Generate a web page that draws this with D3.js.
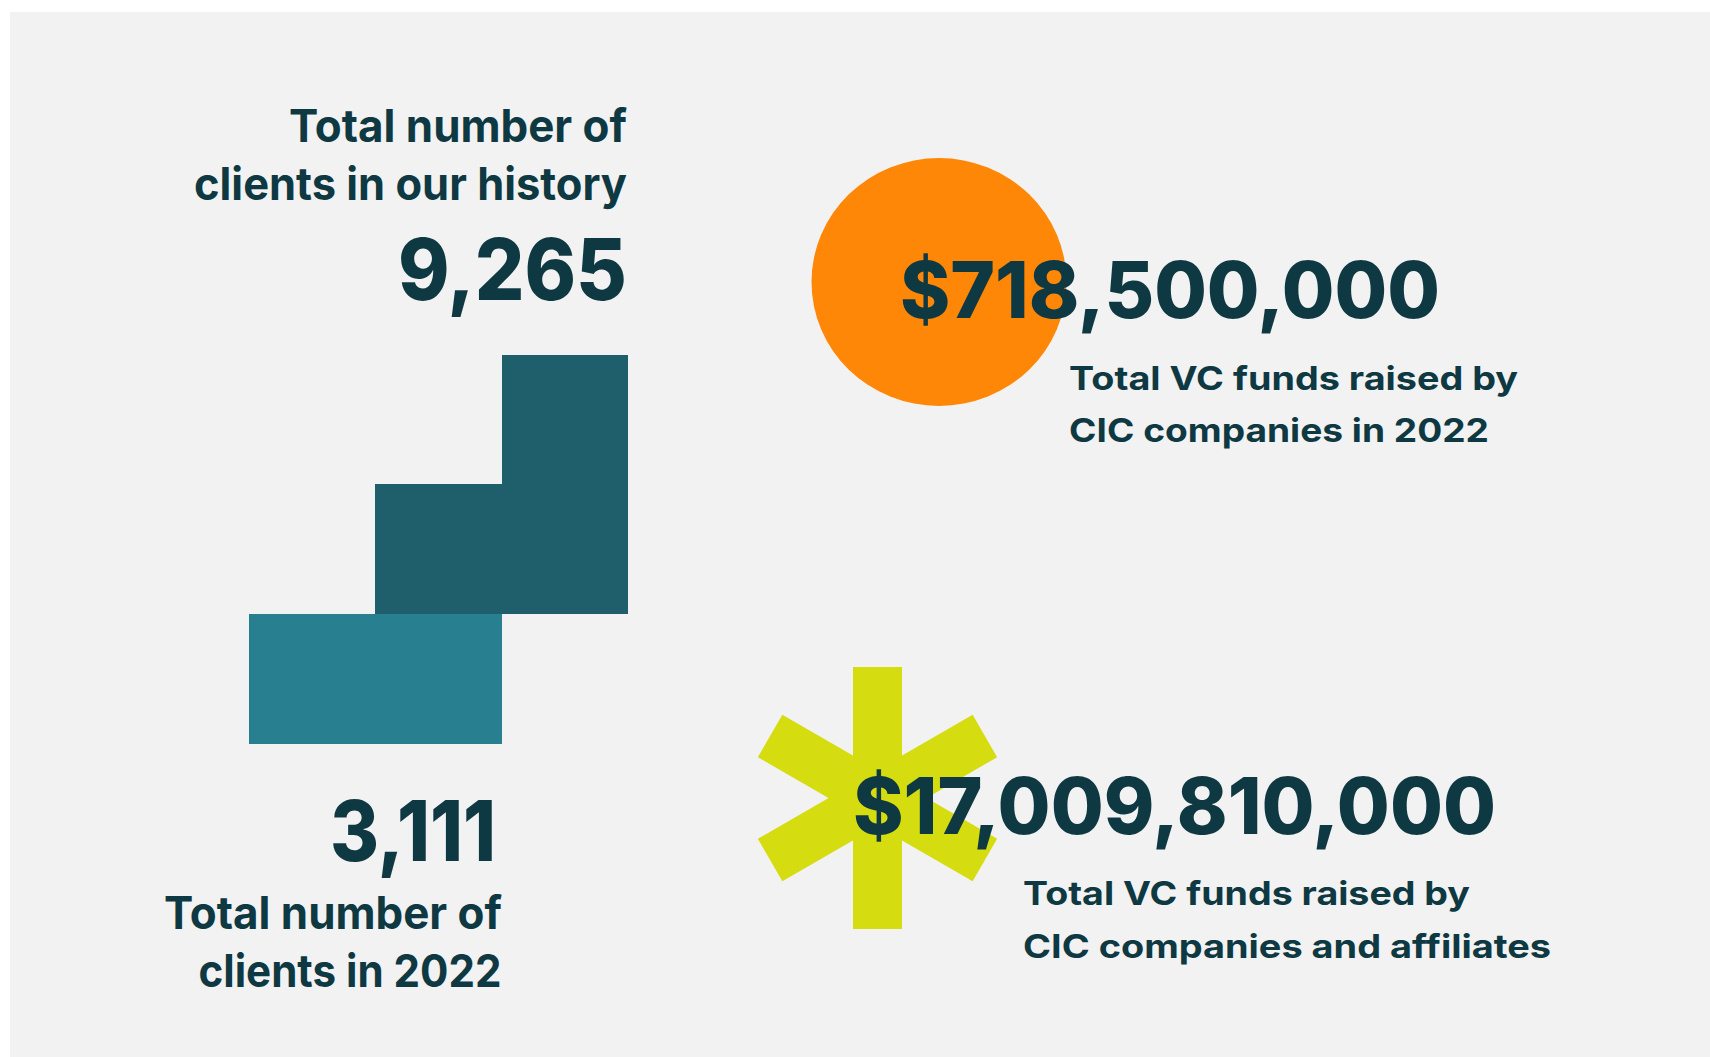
<!DOCTYPE html>
<html>
<head>
<meta charset="utf-8">
<script src="https://cdn.jsdelivr.net/npm/d3@7"></script>
<style>
  html, body { margin: 0; padding: 0; background: #ffffff; }
  svg { display: block; }
  text { font-family: Inter, "Open Sans", sans-serif; fill: #0f3942; }
</style>
</head>
<body>
<div id="chart"></div>
<script>
// step blocks (clients): one entry per block
var stepCols  = ["c0", "c1", "c1", "c2"];
var stepLow   = [0, 0, 1, 1];
var stepHigh  = [1, 1, 2, 3];
var stepTone  = ["light", "light", "dark", "dark"];

// headline figures and their captions
var statValues = ["9,265", "3,111", "$718,500,000", "$17,009,810,000"];
var statLine1  = ["Total number of", "Total number of", "Total VC funds raised by", "Total VC funds raised by"];
var statLine2  = ["clients in our history", "clients in 2022", "CIC companies in 2022", "CIC companies and affiliates"];

var W = 1710, H = 1057;

var svg = d3.select("#chart").append("svg")
    .attr("width", W)
    .attr("height", H);

// page background
svg.append("rect")
    .attr("x", 10).attr("y", 12)
    .attr("width", W - 10).attr("height", H - 12)
    .attr("fill", "#f2f2f2");

// Step blocks
var x = d3.scaleBand()
    .domain(["c0", "c1", "c2"])
    .range([248.7, 628.2])
    .padding(0);
var y = d3.scaleLinear()
    .domain([0, 3])
    .range([744, 354.5]);
var tone = d3.scaleOrdinal()
    .domain(["light", "dark"])
    .range(["#277f8f", "#1f5f6b"]);

var blocks = stepCols.map(function(c, i) {
    return { col: c, low: stepLow[i], high: stepHigh[i], tone: stepTone[i] };
});

svg.append("g").selectAll("rect")
    .data(blocks)
    .enter().append("rect")
    .attr("x", function(d) { return x(d.col); })
    .attr("y", function(d) { return y(d.high); })
    .attr("width", x.bandwidth())
    .attr("height", function(d) { return y(d.low) - y(d.high); })
    .attr("fill", function(d) { return tone(d.tone); })
    .attr("shape-rendering", "crispEdges");

// Orange disc behind the 2022 figure
svg.append("ellipse")
    .attr("cx", 939).attr("cy", 282)
    .attr("rx", 127.5).attr("ry", 124)
    .attr("fill", "#ff8708");

// Asterisk behind the affiliates figure (vertical arm longer than diagonals)
var star = svg.append("g")
    .attr("transform", "translate(877.5,798)");
star.selectAll("rect")
    .data([{ a: 0, h: 131 }, { a: 60, h: 124 }, { a: -60, h: 124 }])
    .enter().append("rect")
    .attr("x", -24.5)
    .attr("y", function(d) { return -d.h; })
    .attr("width", 49)
    .attr("height", function(d) { return 2 * d.h; })
    .attr("transform", function(d) { return "rotate(" + d.a + ")"; })
    .attr("fill", "#d5dc10");

// text layout: [left, baseline, width, size, weight]
var valueLayout = [
    [398, 300, 229, 85, 800],
    [330, 861, 166, 84, 800],
    [900, 318, 540, 78, 800],
    [853, 834, 643, 78, 800]
];
var line1Layout = [
    [289, 142, 338, 45, 700],
    [164, 929, 338, 45, 700],
    [1069, 390, 449, 33, 700],
    [1023, 905, 447, 33, 700]
];
var line2Layout = [
    [194, 199.5, 433, 45, 700],
    [198.5, 987, 303, 45, 700],
    [1069, 441.5, 420, 33, 700],
    [1023, 957.5, 528, 33, 700]
];

function drawText(strings, layout, cls) {
    svg.append("g").attr("class", cls).selectAll("text")
        .data(strings)
        .enter().append("text")
        .attr("x", function(d, i) { return layout[i][0]; })
        .attr("y", function(d, i) { return layout[i][1]; })
        .attr("textLength", function(d, i) { return layout[i][2]; })
        .attr("lengthAdjust", "spacingAndGlyphs")
        .style("font-size", function(d, i) { return layout[i][3] + "px"; })
        .style("font-weight", function(d, i) { return layout[i][4]; })
        .text(function(d) { return d; });
}

drawText(statValues, valueLayout, "value");
drawText(statLine1, line1Layout, "caption1");
drawText(statLine2, line2Layout, "caption2");
</script>
</body>
</html>
